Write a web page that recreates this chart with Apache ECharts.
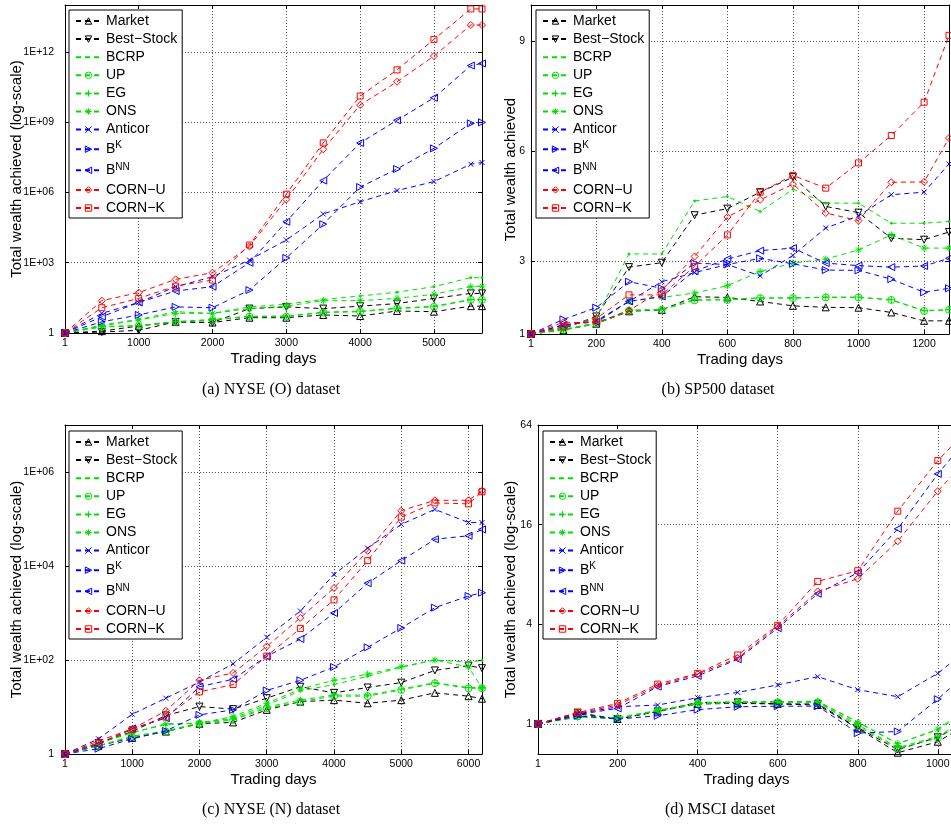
<!DOCTYPE html>
<html>
<head>
<meta charset="utf-8">
<title>Total wealth achieved</title>
<script src="https://cdn.jsdelivr.net/npm/echarts@6/dist/echarts.min.js"></script>
<style>
  html, body {margin: 0; padding: 0; background: #fff;}
  #main {width: 951px; height: 828px;}
</style>
</head>
<body>
<div id="main"></div>
<script>
// legend order
var names = ['Market', 'Best−Stock', 'BCRP', 'UP', 'EG', 'ONS', 'Anticor', 'BK', 'BNN', 'CORN−U', 'CORN−K'];

// (a) NYSE (O)
var daysA = [1, 500, 1000, 1500, 2000, 2500, 3000, 3500, 4000, 4500, 5000, 5500, 5651];
var marketA = [1, 1.2, 2.0, 3.0, 2.8, 4.5, 4.5, 5.9, 5.3, 8.7, 8.1, 14, 14];
var bestA = [1, 1.1, 1.3, 3.0, 2.8, 11, 13, 11, 14, 18, 30, 49, 49];
var bcrpA = [1, 2.2, 3.8, 8.1, 6.9, 13, 17, 27, 38, 55, 95, 230, 230];
var upA = [1, 1.8, 2.0, 3.0, 3.6, 5.0, 5.0, 7.4, 8.1, 11, 13, 26, 26];
var egA = [1, 1.9, 2.1, 3.1, 3.8, 5.2, 5.3, 7.8, 8.6, 11.5, 14, 27, 27];
var onsA = [1, 2.0, 3.6, 6.9, 6.9, 11, 14, 24, 24, 30, 45, 95, 100];
var anticorA = [1, 6.9, 20, 95, 250, 1.3e3, 9.3e3, 1.2e5, 4.0e5, 1.2e6, 2.9e6, 1.6e7, 1.9e7];
var bkA = [1, 3.0, 5.9, 13, 12, 68, 1.6e3, 4.4e4, 1.7e6, 1.0e7, 7.6e7, 8.9e8, 9.8e8];
var bnnA = [1, 5.0, 20, 62, 95, 1.0e3, 5.6e4, 3.2e6, 1.3e8, 1.2e9, 1.1e10, 2.6e11, 3.2e11];
var cornuA = [1, 24, 53, 195, 375, 5.0e3, 5.0e5, 6.9e7, 5.4e9, 5.3e10, 6.6e11, 1.4e13, 1.4e13];
var cornkA = [1, 12, 30, 100, 182, 5.7e3, 8.5e5, 1.3e8, 1.3e10, 1.7e11, 3.4e12, 6.8e13, 6.8e13];

// (b) SP500
var daysB = [1, 100, 200, 300, 400, 500, 600, 700, 800, 900, 1000, 1100, 1200, 1276];
var marketB = [1, 1.11, 1.28, 1.62, 1.66, 2.02, 2.0, 1.89, 1.77, 1.73, 1.72, 1.59, 1.36, 1.36];
var bestB = [1, 1.15, 1.48, 2.83, 2.95, 4.25, 4.43, 4.88, 5.29, 4.49, 4.32, 3.62, 3.58, 3.79];
var bcrpB = [1, 1.18, 1.45, 3.19, 3.19, 4.64, 4.76, 4.35, 4.96, 4.58, 4.58, 4.03, 4.03, 4.08];
var upB = [1, 1.11, 1.28, 1.64, 1.66, 1.92, 1.93, 1.98, 1.98, 2.0, 2.0, 1.93, 1.63, 1.66];
var egB = [1, 1.12, 1.29, 1.66, 1.67, 1.95, 1.95, 1.99, 1.99, 2.01, 2.01, 1.94, 1.64, 1.67];
var onsB = [1, 1.13, 1.3, 1.9, 2.0, 2.12, 2.32, 2.71, 2.94, 3.05, 3.30, 3.71, 3.35, 3.35];
var anticorB = [1, 1.25, 1.36, 1.89, 2.43, 2.68, 2.9, 2.59, 3.15, 3.9, 4.23, 4.81, 4.88, 5.65];
var bkB = [1, 1.4, 1.72, 2.43, 2.25, 2.94, 2.9, 3.07, 2.92, 2.75, 2.74, 2.5, 2.14, 2.25];
var bnnB = [1, 1.25, 1.33, 1.89, 2.03, 2.72, 3.05, 3.28, 3.35, 2.94, 2.87, 2.83, 2.86, 3.07];
var cornuB = [1, 1.32, 1.31, 1.64, 2.2, 3.12, 4.2, 4.67, 5.1, 4.31, 4.1, 5.15, 5.16, 6.36];
var cornkB = [1, 1.2, 1.42, 2.07, 2.07, 2.85, 3.71, 4.88, 5.34, 4.99, 5.68, 6.43, 7.34, 9.17];

// (c) NYSE (N)
var daysC = [1, 500, 1000, 1500, 2000, 2500, 3000, 3500, 4000, 4500, 5000, 5500, 6000, 6200];
var marketC = [1, 1.5, 2.2, 3.0, 4.4, 4.7, 8.7, 13, 14, 12, 14, 20, 17, 15];
var bestC = [1, 1.7, 3.0, 6.6, 10.2, 9.0, 15.4, 27, 20, 26, 33, 60, 76, 67];
var bcrpC = [1, 1.7, 2.9, 4.2, 4.6, 5.8, 11, 22, 30, 45, 70, 100, 90, 98];
var upC = [1, 1.5, 2.3, 3.0, 4.4, 5.3, 9.4, 13, 17, 17, 23, 32, 25, 25];
var egC = [1, 1.5, 2.4, 3.1, 4.6, 5.5, 10, 14, 18, 18, 24, 33, 26, 26];
var onsC = [1, 1.7, 2.8, 4.4, 4.5, 6.3, 12, 24, 37, 50, 72, 100, 71, 25];
var anticorC = [1, 2.1, 7.0, 15.4, 34, 83, 305, 1.1e3, 6.6e3, 2.4e4, 7.7e4, 1.6e5, 8.4e4, 8.4e4];
var bkC = [1, 1.3, 2.1, 3.1, 6.8, 8.7, 22.5, 37, 71, 186, 480, 1.3e3, 2.3e3, 2.7e3];
var bnnC = [1, 1.6, 3.5, 5.8, 27, 39, 120, 280, 1.0e3, 4.3e3, 1.3e4, 3.7e4, 4.4e4, 6.0e4];
var cornuC = [1, 1.9, 3.4, 8.3, 37, 53, 195, 790, 3.4e3, 2.1e4, 1.5e5, 2.5e5, 2.5e5, 4.0e5];
var cornkC = [1, 1.7, 3.3, 6.1, 21, 30, 121, 470, 1.9e3, 1.3e4, 1.1e5, 2.2e5, 2.1e5, 3.8e5];

// (d) MSCI
var daysD = [1, 100, 200, 300, 400, 500, 600, 700, 800, 900, 1000, 1043];
var marketD = [1, 1.15, 1.07, 1.19, 1.32, 1.33, 1.32, 1.30, 0.94, 0.67, 0.78, 0.9];
var bestD = [1, 1.17, 1.07, 1.19, 1.35, 1.35, 1.32, 1.32, 0.95, 0.70, 0.83, 0.95];
var bcrpD = [1, 1.1, 1.08, 1.2, 1.34, 1.36, 1.36, 1.37, 1.03, 0.76, 0.92, 1.08];
var upD = [1, 1.11, 1.08, 1.2, 1.32, 1.35, 1.35, 1.35, 0.97, 0.71, 0.82, 0.95];
var egD = [1, 1.11, 1.09, 1.21, 1.33, 1.36, 1.36, 1.36, 0.99, 0.72, 0.84, 0.97];
var onsD = [1, 1.1, 1.08, 1.2, 1.33, 1.35, 1.36, 1.37, 1.02, 0.76, 0.93, 1.1];
var anticorD = [1, 1.15, 1.27, 1.30, 1.44, 1.55, 1.72, 1.93, 1.61, 1.46, 2.02, 2.45];
var bkD = [1, 1.12, 1.07, 1.12, 1.22, 1.27, 1.28, 1.28, 0.88, 0.90, 1.41, 1.75];
var bnnD = [1, 1.14, 1.24, 1.68, 1.95, 2.46, 3.79, 6.12, 8.2, 15.1, 32.4, 43];
var cornuD = [1, 1.16, 1.30, 1.70, 2.0, 2.50, 3.88, 6.32, 7.53, 12.7, 25.5, 33];
var cornkD = [1, 1.17, 1.33, 1.74, 2.02, 2.61, 3.94, 7.26, 8.43, 19.3, 39, 50];

// tick labels
var xTicksA = [1, 1000, 2000, 3000, 4000, 5000];
var xTicksB = [1, 200, 400, 600, 800, 1000, 1200];
var xTicksC = [1, 1000, 2000, 3000, 4000, 5000, 6000];
var xTicksD = [1, 200, 400, 600, 800, 1000];
var yTicksA = [1, 1e3, 1e6, 1e9, 1e12];
var yTicksB = [1, 3, 6, 9];
var yTicksC = [1, 1e2, 1e4, 1e6];
var yTicksD = [1, 4, 16, 64];

var tableA = [marketA, bestA, bcrpA, upA, egA, onsA, anticorA, bkA, bnnA, cornuA, cornkA];
var tableB = [marketB, bestB, bcrpB, upB, egB, onsB, anticorB, bkB, bnnB, cornuB, cornkB];
var tableC = [marketC, bestC, bcrpC, upC, egC, onsC, anticorC, bkC, bnnC, cornuC, cornkC];
var tableD = [marketD, bestD, bcrpD, upD, egD, onsD, anticorD, bkD, bnnD, cornuD, cornkD];

// matlab-like colours and markers
var K = '#000000', G = '#00e000', B = '#0000ff', R = '#ff0000';
var clear = 'rgba(255,255,255,0)';
var looks = [
  {c: K, s: 'path://M5,0L10,8.7L0,8.7Z'}
  ,{c: K, s: 'path://M0,0L10,0L5,8.7Z'}
  ,{c: G, s: 'circle', z: 2, fill: G}
  ,{c: G, s: 'circle'}
  ,{c: G, s: 'path://M5,0L5,10M0,5L10,5'}
  ,{c: G, s: 'path://M5,0L5,10M0,5L10,5M1.5,1.5L8.5,8.5M8.5,1.5L1.5,8.5'}
  ,{c: B, s: 'path://M1,1L9,9M9,1L1,9', z: 5}
  ,{c: B, s: 'path://M0,0L8.7,5L0,10Z'}
  ,{c: B, s: 'path://M8.7,0L0,5L8.7,10Z'}
  ,{c: R, s: 'diamond'}
  ,{c: R, s: 'rect', z: 6}
];

var sans = 'Liberation Sans, Arial, Helvetica, sans-serif';

var fmtExp = function(v){
  if(v === 1) return '1';
  var e = Math.round(Math.log(v) / Math.LN10);
  return '1E+' + (e < 10 ? '0' : '') + e;
};
var fmtPlain = function(v){
  return String(Math.round(v * 100) / 100);
};

var panels = [
  {grid: {left: 65, top: 5, width: 417, height: 328}, days: daysA, table: tableA
    ,xMax: 5651, xTicks: xTicksA, yType: 'log', base: 10, yMin: 1, yMax: 1e14, yTicks: yTicksA
    ,yName: 'Total wealth achieved (log-scale)', yGap: 41, fmt: fmtExp, legend: [69, 10]}
  ,{grid: {left: 531, top: 5, width: 418, height: 329}, days: daysB, table: tableB
    ,xMax: 1276, xTicks: xTicksB, yType: 'value', yMin: 1, yMax: 10, yTicks: yTicksB
    ,yName: 'Total wealth achieved', yGap: 13, fmt: fmtPlain, legend: [536, 10]}
  ,{grid: {left: 65, top: 425, width: 417, height: 329}, days: daysC, table: tableC
    ,xMax: 6200, xTicks: xTicksC, yType: 'log', base: 10, yMin: 1, yMax: 1e7, yTicks: yTicksC
    ,yName: 'Total wealth achieved (log-scale)', yGap: 41, fmt: fmtExp, legend: [69, 431]}
  ,{grid: {left: 538, top: 425, width: 417, height: 329}, days: daysD, table: tableD
    ,xMax: 1043, xTicks: xTicksD, yType: 'log', base: 2, yMin: 0.658, yMax: 64.01, yTicks: yTicksD
    ,yName: 'Total wealth achieved (log-scale)', yGap: 20, fmt: fmtPlain, legend: [543, 431]}
];

var captions = [
  ['(a) NYSE (O) dataset', 271, 390]
  ,['(b) SP500 dataset', 718, 390]
  ,['(c) NYSE (N) dataset', 271, 810]
  ,['(d) MSCI dataset', 720, 810]
];

var tickLine = {color: '#000', width: 1};
var dotted = {color: '#555', width: 1, type: [1, 2]};

var grids = [], xAxes = [], yAxes = [], legends = [], series = [];

// legend entries; BCRP keeps only its dashed line in the key
var legendData = names.map(function(n){
  return n === 'BCRP' ? {name: n, itemStyle: {opacity: 0}} : {name: n};
});

panels.forEach(function(p, g){
  grids.push({left: p.grid.left, top: p.grid.top, width: p.grid.width, height: p.grid.height
    ,outerBoundsMode: 'none', containLabel: false});

  // bottom + top x axes (box frame)
  [false, true].forEach(function(top){
    xAxes.push({
      type: 'value', gridIndex: g, min: 1, max: p.xMax, position: top ? 'top' : 'bottom'
      ,axisLine: {show: true, onZero: false, lineStyle: tickLine}
      ,axisTick: {show: true, inside: true, length: 4, customValues: p.xTicks, lineStyle: tickLine}
      ,axisLabel: {show: !top, customValues: p.xTicks, color: '#000', fontSize: 10.5, fontFamily: sans, margin: 5
        ,formatter: function(v){ return String(v); }}
      ,splitLine: {show: !top, lineStyle: dotted}
      ,name: top ? '' : 'Trading days', nameLocation: 'middle', nameGap: 18, nameMoveOverlap: false
      ,nameTextStyle: {color: '#000', fontSize: 15, fontFamily: sans}
    });
  });

  // left + right y axes
  [false, true].forEach(function(right){
    var ax = {
      type: p.yType, gridIndex: g, min: p.yMin, max: p.yMax, position: right ? 'right' : 'left'
      ,axisLine: {show: true, onZero: false, lineStyle: tickLine}
      ,axisTick: {show: true, inside: true, length: 4, customValues: p.yTicks, lineStyle: tickLine}
      ,axisLabel: {show: !right, customValues: p.yTicks, color: '#000', fontSize: 10.5, fontFamily: sans
        ,margin: p.yType === 'log' && p.base === 10 ? 11 : 6, formatter: p.fmt}
      ,splitLine: {show: !right, lineStyle: dotted}
      ,minorTick: {show: false}
      ,name: right ? '' : p.yName, nameLocation: 'middle', nameGap: p.yGap, nameMoveOverlap: false
      ,nameTextStyle: {color: '#000', fontSize: 15, fontFamily: sans}
    };
    if(p.yType === 'log') ax.logBase = p.base;
    yAxes.push(ax);
  });

  legends.push({
    orient: 'vertical', left: p.legend[0], top: p.legend[1], data: legendData
    ,selectedMode: false, backgroundColor: '#fff', borderColor: '#000', borderWidth: 1
    ,padding: [4, 5, 3, 6], itemWidth: 25, itemHeight: 8, itemGap: 4.1
    ,itemStyle: {color: clear, borderWidth: 1}
    ,textStyle: {color: '#000', fontSize: 14, fontFamily: sans, lineHeight: 14
      ,rich: {sup: {fontSize: 10, fontFamily: sans, color: '#000', lineHeight: 10, padding: [0, 0, 7, 0]}}}
    ,formatter: function(n){
      if(n === 'BK') return 'B{sup|K}';
      if(n === 'BNN') return 'B{sup|NN}';
      return n;
    }
  });

  names.forEach(function(n, i){
    var lk = looks[i];
    series.push({
      name: n, type: 'line', xAxisIndex: g * 2, yAxisIndex: g * 2
      ,data: p.days.map(function(d, j){ return [d, p.table[i][j]]; })
      ,symbol: lk.s, symbolSize: lk.z || 7
      ,lineStyle: {color: lk.c, width: 1, type: [5, 4]}
      ,itemStyle: {color: lk.fill || clear, borderColor: lk.c, borderWidth: 1}
      ,emphasis: {disabled: true}
      ,z: 2 + i * 0.01
      ,animation: false
    });
  });
});

var chart = echarts.init(document.getElementById('main'), null, {renderer: 'canvas'});
chart.setOption({
  backgroundColor: '#fff'
  ,animation: false
  ,grid: grids
  ,xAxis: xAxes
  ,yAxis: yAxes
  ,legend: legends
  ,series: series
  ,graphic: captions.map(function(c){
    return {type: 'text', x: c[1], y: c[2], z: 10
      ,style: {text: c[0], fill: '#000', font: '16px "Liberation Serif", "Times New Roman", serif'
        ,textAlign: 'center', textVerticalAlign: 'middle'}};
  })
});
</script>
</body>
</html>
